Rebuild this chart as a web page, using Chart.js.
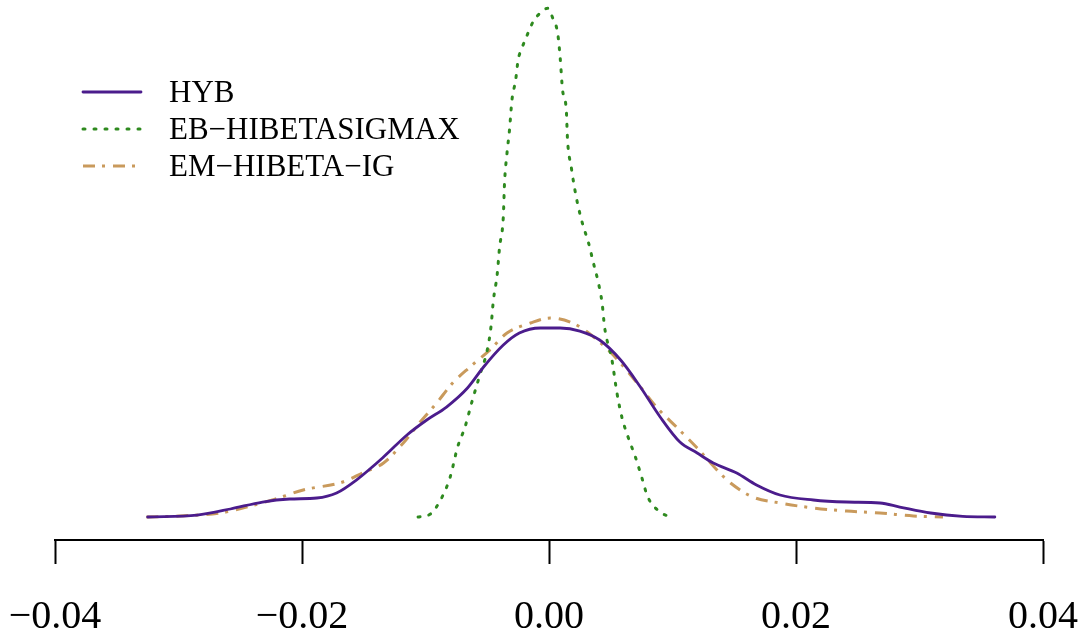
<!DOCTYPE html>
<html>
<head>
<meta charset="utf-8">
<script src="https://cdn.jsdelivr.net/npm/chart.js@4/dist/chart.umd.min.js"></script>
<style>
  html, body { margin: 0; padding: 0; background: #fff; }
  #wrap { width: 1084px; height: 638px; }
</style>
</head>
<body>
<div id="wrap"><canvas id="density"></canvas></div>
<script>
// Kernel density estimates of the three estimators
const seriesNames = ["HYB", "EB\u2212HIBETASIGMAX", "EM\u2212HIBETA\u2212IG"];

const hybX = [-0.0325, -0.0285, -0.0258, -0.0232, -0.0210, -0.0188, -0.0172, -0.0156, -0.0134, -0.0115,
  -0.0099, -0.0083, -0.0066, -0.0053, -0.0037, -0.0024, -0.0007, 0.0009, 0.0025, 0.0041,
  0.0058, 0.0074, 0.0090, 0.0106, 0.0120, 0.0133, 0.0152, 0.0168, 0.0187, 0.0214,
  0.0241, 0.0268, 0.0284, 0.0309, 0.0335, 0.0361];
const hybY = [0, 0.43, 1.74, 3.26, 3.91, 4.13, 5.22, 8.04, 13.04, 17.83,
  21.09, 23.91, 28.04, 32.61, 37.39, 40.0, 41.09, 41.09, 40.43, 38.48,
  34.13, 28.26, 21.74, 16.30, 13.91, 11.74, 9.57, 6.96, 4.78, 3.70,
  3.26, 3.04, 2.17, 0.87, 0.15, 0];

const ebX = [-0.0106, -0.0096, -0.0087, -0.0080, -0.0074, -0.0068, -0.0062, -0.0056, -0.0050, -0.0047,
  -0.0045, -0.0042, -0.0040, -0.0037, -0.0036, -0.0034, -0.0032, -0.0030, -0.0027, -0.0025,
  -0.0022, -0.0019, -0.0013, -0.0007, -0.0001, 0.0003, 0.0007, 0.0009, 0.0011, 0.0014,
  0.0015, 0.0018, 0.0020, 0.0023, 0.0027, 0.0032, 0.0036, 0.0040, 0.0043, 0.0045,
  0.0051, 0.0055, 0.0059, 0.0064, 0.0070, 0.0075, 0.0080, 0.0090, 0.0098];
const ebY = [0, 0.65, 4.13, 8.70, 15.22, 19.57, 25.43, 30.87, 36.30, 41.30,
  47.17, 52.61, 58.70, 65.22, 72.61, 79.13, 84.13, 90.65, 95.0, 99.35,
  101.9, 103.9, 107.6, 109.6, 110.6, 108.5, 105.2, 100.0, 92.8, 88.5,
  82.0, 76.1, 72.6, 68.3, 63.9, 59.6, 55.2, 50.9, 46.5, 41.3,
  34.1, 27.0, 21.7, 17.4, 13.0, 8.70, 4.35, 1.09, 0];

const emX = [-0.0326, -0.0299, -0.0266, -0.0245, -0.0224, -0.0199, -0.0167, -0.0151, -0.0134, -0.0118,
  -0.0105, -0.0091, -0.0078, -0.0064, -0.0048, -0.0034, -0.0015, 0.0001, 0.0019, 0.0031,
  0.0052, 0.0074, 0.0087, 0.0104, 0.0120, 0.0136, 0.0147, 0.0165, 0.0187, 0.0214,
  0.0241, 0.0268, 0.0295, 0.0319];
const emY = [0, 0.22, 0.87, 2.17, 3.70, 5.87, 7.61, 9.57, 11.74, 16.09,
  20.43, 24.78, 29.13, 32.61, 36.30, 40.0, 42.17, 43.26, 42.17, 40.22,
  35.22, 28.26, 23.91, 19.35, 15.0, 10.22, 7.39, 4.35, 3.04, 1.96,
  1.30, 0.87, 0.22, 0];

const xTicks = [-0.04, -0.02, 0, 0.02, 0.04];

const colors = ["#4b1c8c", "#2e8a1f", "#c99a5c"];
const dashes = [[], [2, 9], [12, 7, 3, 8]];
const caps = ["round", "round", "butt"];

function toPoints(xs, ys) {
  return xs.map((x, i) => ({ x: x, y: ys[i] }));
}

function fmtTick(v) {
  if (Math.abs(v) < 1e-9) return "0.00";
  return v.toFixed(2).replace("-", "\u2212");
}

// Legend drawn in the upper left corner of the plot area
const cornerLegend = {
  id: "cornerLegend",
  afterDraw(chart) {
    const ctx = chart.ctx;
    const left = chart.chartArea.left + 28;
    ctx.save();
    chart.data.datasets.forEach((ds, i) => {
      const y = 92 + i * 37;
      ctx.beginPath();
      ctx.strokeStyle = ds.borderColor;
      ctx.lineWidth = ds.borderWidth;
      ctx.lineCap = ds.borderCapStyle;
      ctx.setLineDash(ds.borderDash);
      ctx.moveTo(left, y);
      ctx.lineTo(left + 58, y);
      ctx.stroke();
      ctx.setLineDash([]);
      ctx.fillStyle = "#000";
      ctx.font = "31px 'Liberation Serif'";
      ctx.textBaseline = "alphabetic";
      ctx.fillText(ds.label, left + 86, y + 10);
    });
    ctx.restore();
  },
};

const allX = [hybX, ebX, emX];
const allY = [hybY, ebY, emY];

new Chart(document.getElementById("density"), {
  type: "line",
  data: {
    datasets: seriesNames.map((name, i) => ({
      label: name,
      data: toPoints(allX[i], allY[i]),
      borderColor: colors[i],
      borderWidth: i === 0 ? 2.8 : 3,
      borderDash: dashes[i],
      borderCapStyle: caps[i],
      cubicInterpolationMode: "monotone",
      pointRadius: 0,
      fill: false,
    })),
  },
  options: {
    responsive: true,
    maintainAspectRatio: false,
    animation: false,
    layout: {
      padding: { left: 55, right: 41, top: 0, bottom: 0 },
    },
    plugins: {
      legend: { display: false },
      tooltip: { enabled: false },
    },
    scales: {
      x: {
        type: "linear",
        min: -0.04,
        max: 0.04,
        afterBuildTicks: function (scale) {
          scale.ticks = xTicks.map((v) => ({ value: v }));
        },
        afterFit: function (scale) {
          // keep the plot edges on the layout padding, labels may overhang
          scale.height = 98;
          scale.paddingLeft = 0;
          scale.paddingRight = 0;
        },
        border: { display: true, color: "#000", width: 2 },
        grid: {
          drawOnChartArea: false,
          drawTicks: true,
          tickLength: 24,
          tickWidth: 2,
          tickColor: "#000",
        },
        ticks: {
          padding: 29,
          color: "#000",
          maxRotation: 0,
          autoSkip: false,
          font: { family: "'Liberation Serif', serif", size: 40 },
          callback: function (value) {
            return fmtTick(value);
          },
        },
      },
      y: {
        display: false,
        min: -5,
        max: 112.4,
      },
    },
  },
  plugins: [cornerLegend],
});
</script>
</body>
</html>
